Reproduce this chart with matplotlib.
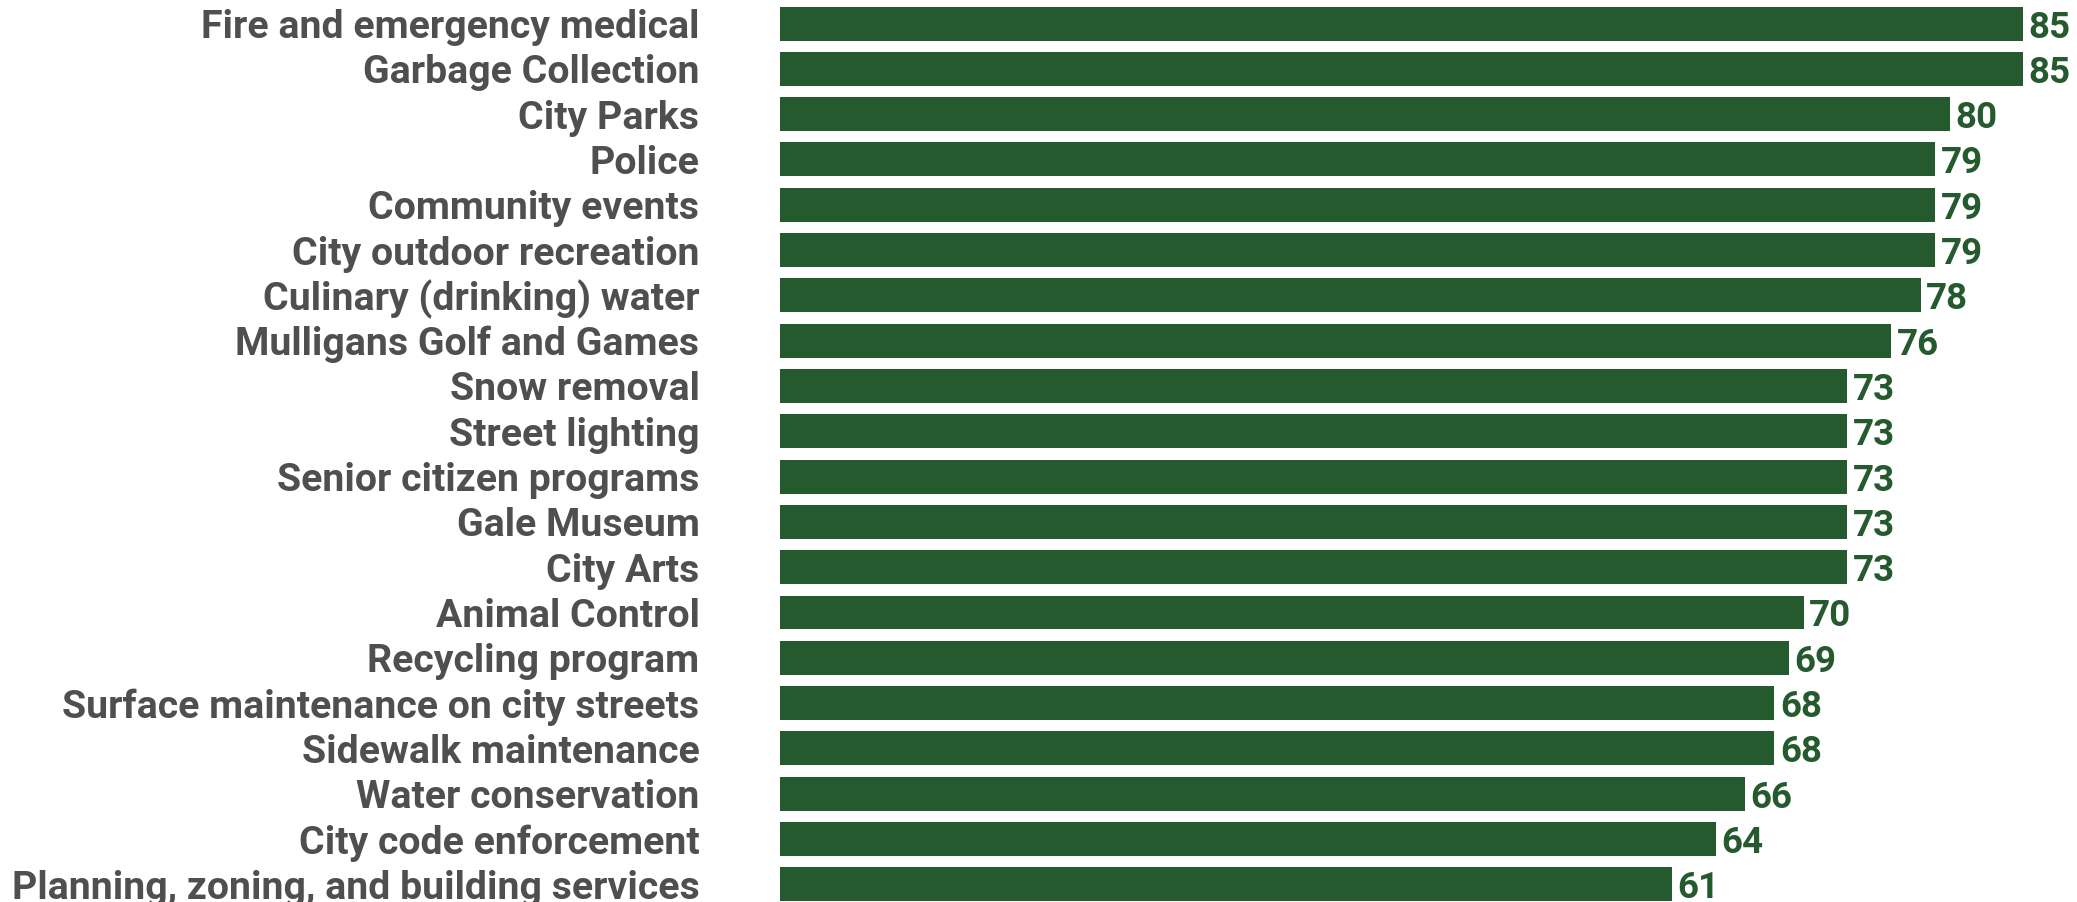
import matplotlib
matplotlib.use("Agg")
import matplotlib.pyplot as plt

services = [
    "Fire and emergency medical",
    "Garbage Collection",
    "City Parks",
    "Police",
    "Community events",
    "City outdoor recreation",
    "Culinary (drinking) water",
    "Mulligans Golf and Games",
    "Snow removal",
    "Street lighting",
    "Senior citizen programs",
    "Gale Museum",
    "City Arts",
    "Animal Control",
    "Recycling program",
    "Surface maintenance on city streets",
    "Sidewalk maintenance",
    "Water conservation",
    "City code enforcement",
    "Planning, zoning, and building services",
]
scores = [85, 85, 80, 79, 79, 79, 78, 76, 73, 73, 73, 73, 73, 70, 69, 68, 68, 66, 64, 61]

BAR = "#25592e"
LABEL = "#4f4f4f"

plt.rcParams["font.family"] = ["Roboto", "DejaVu Sans"]

fig = plt.figure(figsize=(20.77, 9.02), dpi=100)
ax = fig.add_axes([780 / 2077, 0, 1 - 780 / 2077, 1])

ypos = list(range(len(services)))
ax.barh(ypos, scores, height=0.75, color=BAR)
# value labels just past the end of each bar
for y, v in zip(ypos, scores):
    ax.annotate(str(v), (v, y), xytext=(4, 0), textcoords="offset points",
                ha="left", va="center_baseline", color=BAR,
                fontsize=26.5, fontweight="bold")

ax.set_xlim(0, 88.7)
ax.set_ylim(19.39, -0.519)
ax.set_yticks(ypos)
ax.set_yticklabels(services, fontsize=28.3, fontweight="bold", color=LABEL)
ax.tick_params(axis="y", length=0, pad=58)
ax.set_xticks([])
for s in ax.spines.values():
    s.set_visible(False)

fig.savefig("out.png", dpi=100)
